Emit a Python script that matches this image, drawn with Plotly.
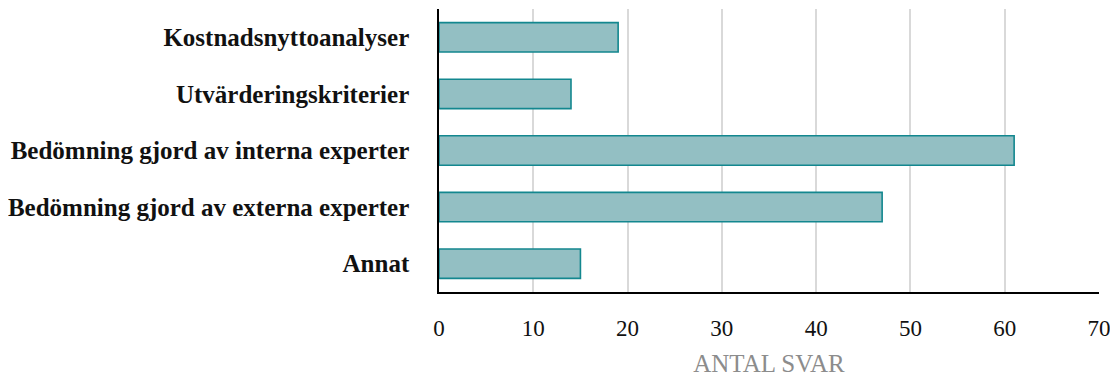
import plotly.graph_objects as go

categories = ["Kostnadsnyttoanalyser", "Utvärderingskriterier",
              "Bedömning gjord av interna experter",
              "Bedömning gjord av externa experter", "Annat"]
values = [19, 14, 61, 47, 15]
x_ticks = [0, 10, 20, 30, 40, 50, 60, 70]
x_title = "ANTAL SVAR"

SERIF = "Liberation Serif, DejaVu Serif, serif"

fig = go.Figure(go.Bar(
    x=values, y=categories, orientation="h",
    marker=dict(color="#93bfc3", line=dict(color="#13878f", width=1.6)),
))
# the page body has an 8px default margin, so the figure is 8px smaller
fig.update_layout(
    width=1110, height=372,
    margin=dict(l=431, r=19, t=1, b=88, autoexpand=False),
    plot_bgcolor="white", paper_bgcolor="white",
    bargap=0.48, showlegend=False,
    font=dict(family=SERIF, color="black"),
)
fig.update_xaxes(
    range=[0, 70], tickvals=x_ticks, showgrid=True, gridcolor="#d9d9d9", gridwidth=2,
    showline=True, linecolor="black", linewidth=1.5, zeroline=False,
    tickfont=dict(size=23, family=SERIF, color="#111"),
    ticklabelstandoff=15, automargin=False,
    title=dict(text=x_title, font=dict(size=25, color="#8c8c8c", family=SERIF), standoff=14),
)
fig.update_yaxes(
    categoryorder="array", categoryarray=categories[::-1],
    showline=True, linecolor="black", linewidth=1.5, showgrid=False,
    tickfont=dict(size=25, family=SERIF, color="#111", weight="bold"),
    ticklabelstandoff=23, automargin=False,
)
fig.write_html("out.html")
